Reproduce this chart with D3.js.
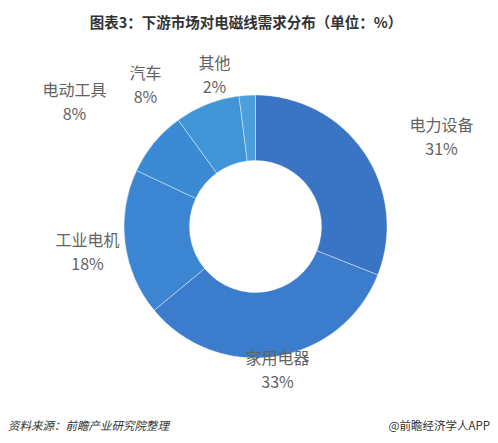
<!DOCTYPE html>
<html><head><meta charset="utf-8">
<script src="https://cdn.jsdelivr.net/npm/d3@7/dist/d3.min.js"></script>
<style>body{margin:0;background:#fff}svg{display:block}</style>
</head><body>
<svg id="c" width="498" height="443"></svg>
<script>
const categories = ["电力设备","家用电器","工业电机","电动工具","汽车","其他"];
const values = [31,33,18,8,8,2];
const colors = ["#3a74c4","#3b7ccc","#3c85d2","#3a8bd4","#3f95d6","#4a9fdc"];
const labelPos = [[186,-96],[22,137],[-168,19],[-181,-131],[-110,-148],[-41,-158]];

const svg = d3.select("#c");
const font = "'Noto Sans CJK SC','Microsoft YaHei',sans-serif";
svg.append("text").attr("x",246).attr("y",28).attr("text-anchor","middle")
  .attr("font-family",font).attr("font-weight","bold").attr("font-size",14.5).attr("fill","#333")
  .text("图表3：下游市场对电磁线需求分布（单位：%）");

const cx=255.5, cy=226.5;
const g = svg.append("g").attr("transform",`translate(${cx},${cy})`);
const pie = d3.pie().sort(null).value(d=>d);
const arc = d3.arc().innerRadius(66).outerRadius(131.5);
const arcs = pie(values);
g.selectAll("path").data(arcs).enter().append("path")
  .attr("d",arc).attr("fill",(d,i)=>colors[i]).attr("stroke","#fff").attr("stroke-opacity",0.5).attr("stroke-width",0.8);

const lab = g.selectAll("g.l").data(arcs).enter().append("g")
  .attr("transform",(d,i)=>`translate(${labelPos[i][0]},${labelPos[i][1]})`);
lab.append("text").attr("text-anchor","middle").attr("y",0)
  .attr("font-family",font).attr("font-size",16).attr("fill","#636363")
  .text((d,i)=>categories[i]);
lab.append("text").attr("text-anchor","middle").attr("y",24)
  .attr("font-family",font).attr("font-size",16).attr("fill","#636363")
  .text((d,i)=>values[i]+"%");

svg.append("text").attr("x",8).attr("y",430).attr("font-family",font).attr("font-size",11.5)
  .attr("font-style","italic").attr("fill","#333").text("资料来源：前瞻产业研究院整理");
svg.append("text").attr("x",490).attr("y",430).attr("text-anchor","end").attr("font-family",font).attr("font-size",11.5)
  .attr("fill","#333").text("@前瞻经济学人APP");
</script>
</body></html>
